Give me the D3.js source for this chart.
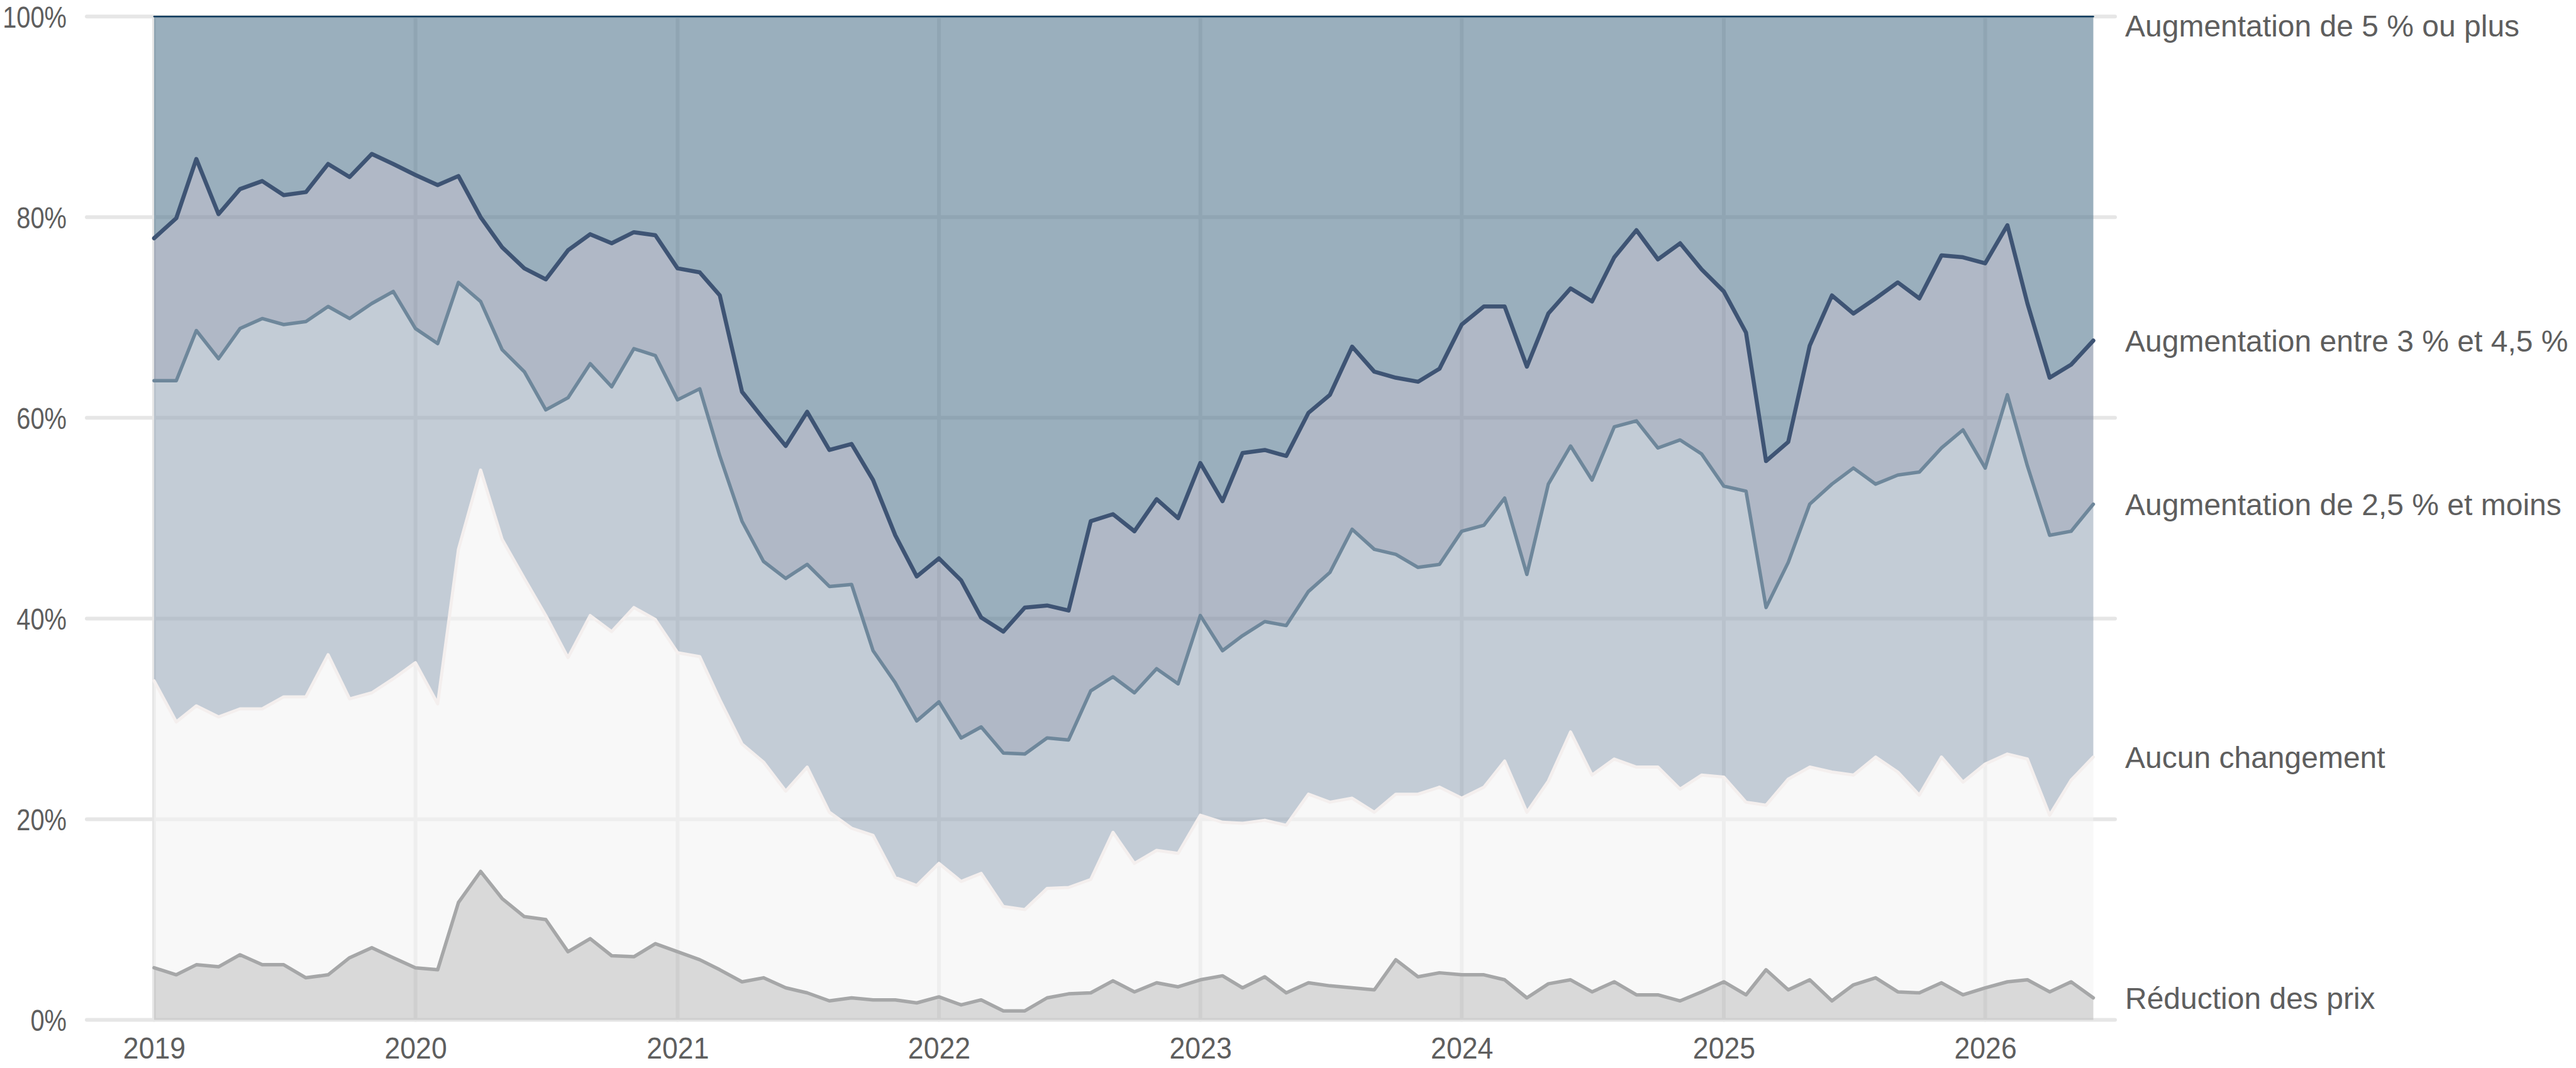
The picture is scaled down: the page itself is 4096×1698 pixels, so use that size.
<!DOCTYPE html>
<html>
<head>
<meta charset="utf-8">
<script src="https://cdn.jsdelivr.net/npm/d3@7/dist/d3.min.js"></script>
<style>
  body { margin: 0; background: #fff; }
  svg text { fill: #5e5e5e; }
  .axis text { font-family: "Liberation Sans", Arial, sans-serif; font-size: 48px; }
  .label { font-family: "Liberation Sans", Arial, sans-serif; font-size: 48px; }
</style>
</head>
<body>
<div id="chart"></div>
<script>
const firstMonth = new Date(2019, 0, 1);
const lastMonth = new Date(2026, 5, 1);
const yearTicks = [2019, 2020, 2021, 2022, 2023, 2024, 2025, 2026];
const yTicks = [0, 20, 40, 60, 80, 100];

const seriesKeys = ["reduction", "aucun", "aug25", "aug3to45", "aug5plus"];
const seriesLabels = ["Réduction des prix", "Aucun changement", "Augmentation de 2,5 % et moins",
  "Augmentation entre 3 % et 4,5 %", "Augmentation de 5 % ou plus"];

// parts en %, mensuel de janv. 2019 à juin 2026
const reduction = [5.2,4.5,5.5,5.3,6.5,5.5,5.5,4.2,4.5,6.2,7.2,6.2,
  5.2,5.0,11.7,14.8,12.1,10.3,10.0,6.8,8.1,6.4,6.3,7.6,
  6.8,6.0,5.0,3.8,4.2,3.2,2.7,1.9,2.2,2.0,2.0,1.7,
  2.3,1.5,2.0,0.9,0.9,2.2,2.6,2.7,3.9,2.8,3.7,3.3,
  4.0,4.4,3.2,4.3,2.7,3.7,3.4,3.2,3.0,6.0,4.3,4.7,
  4.5,4.5,4.0,2.2,3.6,4.0,2.8,3.8,2.5,2.5,1.9,2.8,
  3.8,2.5,5.0,3.0,4.0,1.9,3.5,4.2,2.8,2.7,3.7,2.5,
  3.2,3.8,4.0,2.8,3.8,2.2];
const aucun = [28.6,25.2,25.8,24.9,24.5,25.5,26.7,28.0,31.9,25.8,25.4,27.8,
  30.4,26.5,35.2,40.0,35.8,33.7,30.3,29.3,32.2,32.3,34.8,32.3,
  29.8,30.2,26.9,23.7,21.5,19.6,22.5,18.8,16.9,16.4,12.2,11.7,
  13.3,12.3,12.6,10.4,10.1,10.9,10.6,11.3,14.8,12.8,13.2,13.3,
  16.4,15.3,16.4,15.6,16.7,18.8,18.3,18.9,17.7,16.5,18.2,18.5,
  17.6,18.7,21.8,18.5,20.2,24.7,21.6,22.2,22.7,22.7,21.1,21.6,
  20.4,19.2,16.4,21.0,21.2,22.8,20.9,22.0,21.9,19.7,22.5,21.2,
  22.3,22.7,22.0,17.6,20.1,24.0];
const aug25 = [29.9,34.0,37.4,35.7,37.9,38.9,37.1,37.4,34.7,37.9,38.8,38.6,
  33.3,35.9,26.6,16.8,18.9,20.6,20.5,25.9,25.1,24.4,25.8,26.3,
  25.2,26.7,24.3,22.2,20.0,21.2,20.2,22.5,24.3,18.4,19.4,16.4,
  16.1,14.3,14.6,15.3,15.5,15.0,14.7,18.8,15.5,17.0,18.1,16.9,
  19.9,17.1,18.7,19.8,19.9,20.2,22.9,26.8,26.2,23.9,22.6,22.2,
  26.6,26.1,26.2,23.7,29.6,28.5,29.4,33.1,34.5,31.8,34.8,32.0,
  29.0,31.0,19.7,21.6,26.2,28.7,30.6,27.2,29.6,32.2,30.8,35.1,
  29.5,35.8,29.2,27.9,24.8,25.2];
const aug3to45 = [14.2,16.2,17.1,14.4,13.9,13.7,12.9,12.9,14.2,14.1,14.9,12.7,
  15.3,15.8,10.6,8.4,10.2,10.3,13.0,14.7,12.9,14.3,11.6,12.0,
  13.1,11.6,16.0,12.9,14.2,13.2,15.2,13.6,14.0,17.0,14.7,14.4,
  14.3,15.7,10.9,12.1,14.6,13.2,12.9,16.9,16.2,16.1,16.9,16.5,
  15.2,14.9,18.2,17.1,16.9,17.8,17.7,18.2,17.7,17.6,18.5,19.5,
  20.6,21.8,19.1,20.7,17.0,15.7,17.8,16.9,19.0,18.8,19.6,18.4,
  19.4,15.8,14.6,12.0,15.8,18.8,15.4,18.5,19.2,17.3,19.2,17.2,
  20.4,16.9,16.2,15.7,16.6,16.3];
const aug5plus = [22.1,20.1,14.2,19.7,17.2,16.4,17.8,17.5,14.7,16.0,13.7,14.7,
  15.8,16.8,15.9,20.0,23.0,25.1,26.2,23.3,21.7,22.6,21.5,21.8,
  25.1,25.5,27.8,37.4,40.1,42.8,39.4,43.2,42.6,46.2,51.7,55.8,
  54.0,56.2,59.9,61.3,58.9,58.7,59.2,50.3,49.6,51.3,48.1,50.0,
  44.5,48.3,43.5,43.2,43.8,39.5,37.7,32.9,35.4,36.0,36.4,35.1,
  30.7,28.9,28.9,34.9,29.6,27.1,28.4,24.0,21.3,24.2,22.6,25.2,
  27.4,31.5,44.3,42.4,32.8,27.8,29.6,28.1,26.5,28.1,23.8,24.0,
  24.6,20.8,28.6,36.0,34.7,32.3];

const fills = {reduction: "rgb(192,192,192)", aucun: "rgb(243,243,243)", aug25: "rgb(155,170,187)",
  aug3to45: "rgb(123,137,160)", aug5plus: "rgb(87,122,145)"};
const strokes = {reduction: "#a6a7a8", aucun: "#f4efee", aug25: "#6e879b", aug3to45: "#3e5474", aug5plus: "#0e3b5d"};
const strokeW = {reduction: 5.5, aucun: 5, aug25: 5.5, aug3to45: 6.5, aug5plus: 2.6};

let width = 4096, height = 1698;
let margin = {top: 26.2, left: 245, right: 4096 - 3328.5, bottom: 1698 - 1621.6};

let months = d3.timeMonth.range(firstMonth, d3.timeMonth.offset(lastMonth, 1));
let table = months.map(function(d, i){
  return {date: d, reduction: reduction[i], aucun: aucun[i], aug25: aug25[i], aug3to45: aug3to45[i], aug5plus: aug5plus[i]};
});

let x = d3.scaleTime()
  .domain([firstMonth, lastMonth])
  .range([margin.left, width - margin.right]);
let y = d3.scaleLinear()
  .domain([0, 100])
  .range([height - margin.bottom, margin.top]);

let svg = d3.select("#chart").append("svg")
  .attr("width", width)
  .attr("height", height);

let gridLeft = 138, gridRight = 3363;
let years = yearTicks.map(function(yr){ return new Date(yr, 0, 1); });

svg.append("g").selectAll("line")
  .data(yTicks)
  .join("line")
  .attr("x1", gridLeft).attr("x2", gridRight)
  .attr("y1", function(d){ return y(d); }).attr("y2", function(d){ return y(d); })
  .style("stroke", "#e6e6e6").style("stroke-width", 6).style("stroke-linecap", "round");

svg.append("g").selectAll("line")
  .data(years)
  .join("line")
  .attr("x1", function(d){ return x(d); }).attr("x2", function(d){ return x(d); })
  .attr("y1", y(100)).attr("y2", y(0))
  .style("stroke", "#e6e6e6").style("stroke-width", 6).style("stroke-linecap", "round");

let stack = d3.stack().keys(seriesKeys);
let layers = stack(table);

let area = d3.area()
  .x(function(d){ return x(d.data.date); })
  .y0(function(d){ return y(d[0]); })
  .y1(function(d){ return y(d[1]); });

let line = d3.line()
  .x(function(d){ return x(d.data.date); })
  .y(function(d){ return y(d[1]); });

svg.append("g").selectAll("path")
  .data(layers)
  .join("path")
  .attr("d", area)
  .style("fill", function(d){ return fills[d.key]; })
  .style("fill-opacity", 0.6);

svg.append("g").selectAll("path")
  .data(layers)
  .join("path")
  .attr("d", line)
  .style("fill", "none")
  .style("stroke", function(d){ return strokes[d.key]; })
  .style("stroke-width", function(d){ return strokeW[d.key]; })
  .style("stroke-linejoin", "round")
  .style("stroke-linecap", "round");

// the original font is narrower, so the tick labels get squeezed a bit
let ySqueeze = 0.83, xSqueeze = 0.93;

let yAxis = d3.axisLeft(y)
  .tickValues(yTicks)
  .tickSize(0)
  .tickFormat(function(d){ return d + "%"; });

svg.append("g")
  .attr("class", "axis")
  .attr("transform", "translate(" + gridLeft + ",0)")
  .call(yAxis)
  .call(function(g){ g.select(".domain").remove(); })
  .selectAll("text")
  .attr("x", -32 / ySqueeze)
  .attr("dy", "0.36em")
  .attr("transform", "scale(" + ySqueeze + ",1)");

let xAxis = d3.axisBottom(x)
  .tickValues(years)
  .tickSize(0)
  .tickFormat(d3.timeFormat("%Y"));

svg.append("g")
  .attr("class", "axis")
  .attr("transform", "translate(0," + y(0) + ")")
  .call(xAxis)
  .call(function(g){ g.select(".domain").remove(); })
  .selectAll("text")
  .attr("y", 61)
  .attr("dy", 0)
  .attr("transform", "scale(" + xSqueeze + ",1)");

let last = table.length - 1;
svg.append("g").selectAll("text")
  .data(layers)
  .join("text")
  .attr("class", "label")
  .attr("x", 3379)
  .attr("y", function(d){ return Math.max(y(d[last][1]), y(100) + 15); })
  .attr("dy", "0.36em")
  .text(function(d, i){ return seriesLabels[i]; });
</script>
</body>
</html>
